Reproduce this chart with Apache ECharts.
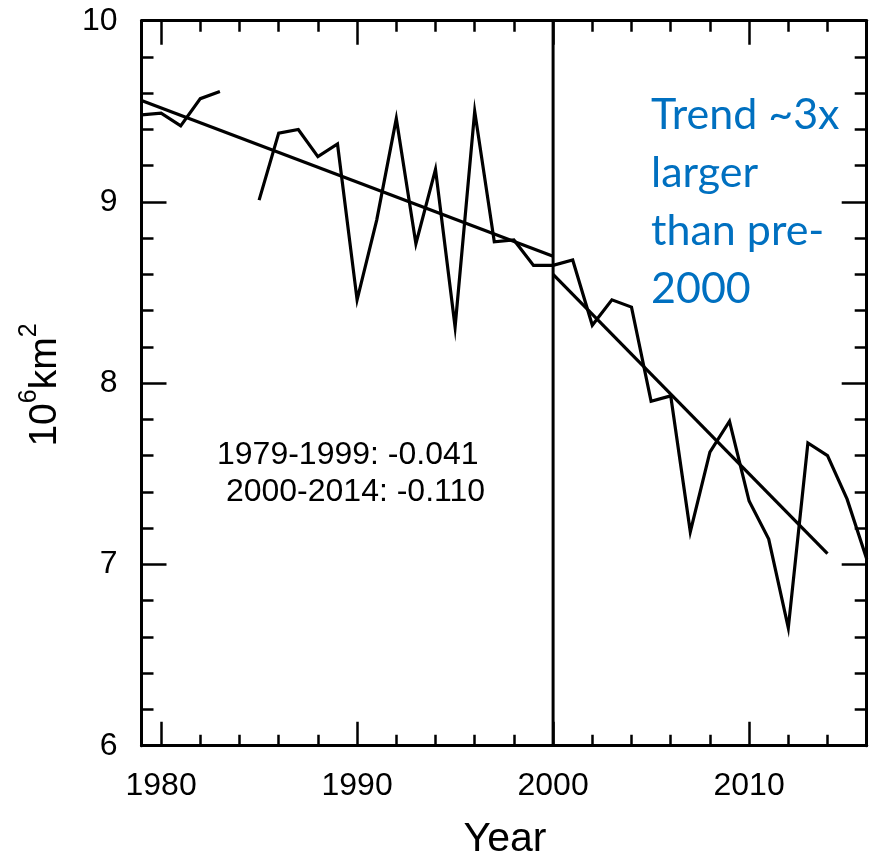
<!DOCTYPE html>
<html>
<head>
<meta charset="utf-8">
<title>Sea ice extent</title>
<script src="https://cdn.jsdelivr.net/npm/echarts@6/dist/echarts.min.js"></script>
<style>
  html, body { margin: 0; padding: 0; background: #ffffff; }
  #chart { width: 875px; height: 860px; }
</style>
</head>
<body>
<div id="chart"></div>
<script>
// Annual extent, 10^6 km^2 (1984 has no value)
const years = [1979, 1980, 1981, 1982, 1983, 1984, 1985, 1986, 1987, 1988,
               1989, 1990, 1991, 1992, 1993, 1994, 1995, 1996, 1997, 1998,
               1999, 2000, 2001, 2002, 2003, 2004, 2005, 2006, 2007, 2008,
               2009, 2010, 2011, 2012, 2013, 2014, 2015, 2016];
const extent = [9.48, 9.49, 9.42, 9.57, 9.61, null, 9.01, 9.38, 9.40, 9.25,
                9.32, 8.46, 8.90, 9.46, 8.77, 9.18, 8.31, 9.50, 8.78, 8.79,
                8.65, 8.65, 8.68, 8.32, 8.46, 8.42, 7.90, 7.93, 7.18, 7.62,
                7.79, 7.35, 7.14, 6.65, 7.67, 7.60, 7.36, 7.03];

// Linear trends for the two periods
const trendEarlyYears = [1979, 2000];
const trendEarlyValues = [9.56, 8.70];
const trendLateYears = [2000, 2014];
const trendLateValues = [8.60, 7.06];
const trendLabels = ['1979-1999: -0.041', '2000-2014: -0.110'];

// Split between the two periods
const dividerYear = 2000;

// Axis ranges and ticks
const xMin = 1979, xMax = 2016;
const yMin = 6, yMax = 10, yStep = 1;
const decadeTicks = [1980, 1990, 2000, 2010];
const evenYearTicks = [1980, 1982, 1984, 1986, 1988, 1990, 1992, 1994, 1996, 1998,
                       2000, 2002, 2004, 2006, 2008, 2010, 2012, 2014];

const noteLines = ['Trend ~3x', 'larger', 'than pre-', '2000'];

const pairs = (xs, ys) => xs.map((x, i) => [x, ys[i]]);

const ink = '#000000';
const labelFont = 'Liberation Sans, Arial, Helvetica, sans-serif';

function xAxisDef(position, ticks, len, showLabels, showLine) {
  return {
    type: 'value', position: position, min: xMin, max: xMax,
    axisLine: { show: showLine, onZero: false, lineStyle: { color: ink, width: 3 } },
    axisTick: { show: true, inside: true, length: len, customValues: ticks,
                lineStyle: { color: ink, width: 2.5 } },
    axisLabel: { show: showLabels, customValues: decadeTicks, margin: 24,
                 color: ink, fontSize: 32, fontFamily: labelFont,
                 formatter: v => String(v) },
    splitLine: { show: false }
  };
}

function yAxisDef(position, showLabels) {
  return {
    type: 'value', position: position, min: yMin, max: yMax, interval: yStep,
    axisLine: { show: true, onZero: false, lineStyle: { color: ink, width: 3 } },
    axisTick: { show: true, inside: true, length: 25, lineStyle: { color: ink, width: 2.5 } },
    minorTick: { show: true, splitNumber: 5, length: 12, lineStyle: { color: ink, width: 2.5 } },
    axisLabel: { show: showLabels, margin: 24, color: ink, fontSize: 32, fontFamily: labelFont },
    splitLine: { show: false },
    minorSplitLine: { show: false }
  };
}

const chart = echarts.init(document.getElementById('chart'), null, { renderer: 'canvas' });

chart.setOption({
  backgroundColor: '#ffffff',
  animation: false,
  grid: { left: 141.5, right: 8.3, top: 20.7, bottom: 114.3, outerBoundsMode: 'none' },
  xAxis: [
    xAxisDef('bottom', decadeTicks, 24, true, true),
    xAxisDef('bottom', evenYearTicks, 11, false, false),
    xAxisDef('top', decadeTicks, 24, false, true),
    xAxisDef('top', evenYearTicks, 11, false, false)
  ],
  yAxis: [
    yAxisDef('left', true),
    yAxisDef('right', false)
  ],
  series: [
    {
      name: 'extent', type: 'line', xAxisIndex: 0, yAxisIndex: 0,
      data: pairs(years, extent), connectNulls: false,
      showSymbol: false, symbol: 'none',
      lineStyle: { color: ink, width: 3.2, join: 'miter' }
    },
    {
      name: 'trend 1979-1999', type: 'line', xAxisIndex: 0, yAxisIndex: 0,
      data: pairs(trendEarlyYears, trendEarlyValues), symbol: 'none',
      lineStyle: { color: ink, width: 3.2 }
    },
    {
      name: 'trend 2000-2014', type: 'line', xAxisIndex: 0, yAxisIndex: 0,
      data: pairs(trendLateYears, trendLateValues), symbol: 'none',
      lineStyle: { color: ink, width: 3.2 }
    },
    {
      name: 'divider', type: 'line', xAxisIndex: 0, yAxisIndex: 0,
      data: [[dividerYear, yMin], [dividerYear, yMax]], symbol: 'none',
      lineStyle: { color: ink, width: 3 }
    }
  ],
  graphic: [
    {
      type: 'text', x: 45, y: 385, rotation: Math.PI / 2,
      style: {
        text: '{a|10}{s|6}{a|km}{s|2}',
        align: 'center', verticalAlign: 'middle',
        rich: {
          a: { fontSize: 39, fontFamily: labelFont, fill: ink, lineHeight: 56 },
          s: { fontSize: 25, fontFamily: labelFont, fill: ink, lineHeight: 27, verticalAlign: 'top' }
        }
      }
    },
    {
      type: 'text', x: 505, y: 840,
      style: { text: 'Year', fontSize: 41, fontFamily: labelFont, fill: ink,
               align: 'center', verticalAlign: 'middle' }
    },
    {
      type: 'text', x: 217, y: 437,
      style: { text: trendLabels[0] + '\n ' + trendLabels[1], fontSize: 32, lineHeight: 37,
               fontFamily: labelFont, fill: ink, align: 'left', verticalAlign: 'top' }
    },
    {
      type: 'text', x: 651, y: 86,
      style: { text: noteLines.join('\n'), fontSize: 43, lineHeight: 58,
               fontFamily: 'Lato, Calibri, sans-serif', fill: '#0070C0',
               align: 'left', verticalAlign: 'top' }
    }
  ]
});
</script>
</body>
</html>
